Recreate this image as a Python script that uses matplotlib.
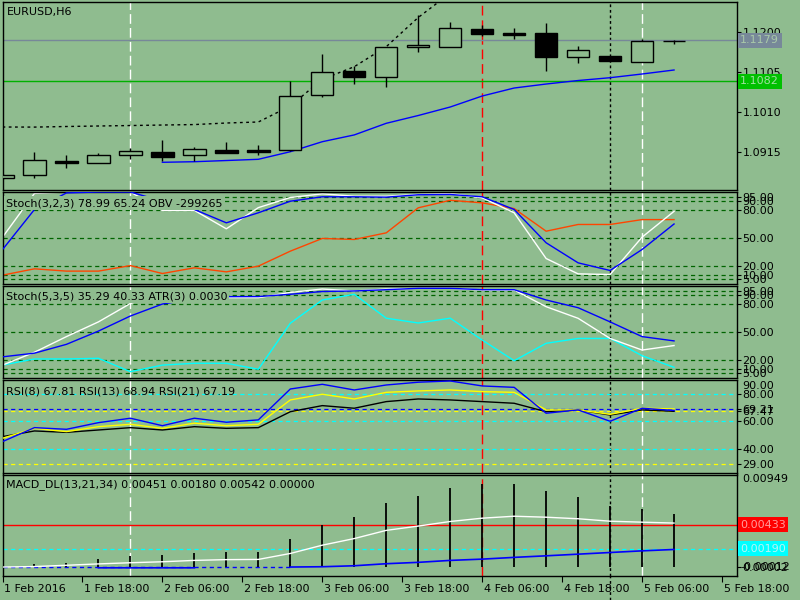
import matplotlib
matplotlib.use('Agg')
import matplotlib.pyplot as plt
import matplotlib.transforms as mtrans
import numpy as np

plt.rcParams['font.family'] = ['DejaVu Sans']
plt.rcParams['lines.scale_dashes'] = False

BG = '#8fbc8f'
W, H = 800, 600

# ---------------- data ----------------
time_labels = ['1 Feb 2016', '1 Feb 18:00', '2 Feb 06:00', '2 Feb 18:00', '3 Feb 06:00',
               '3 Feb 18:00', '4 Feb 06:00', '4 Feb 18:00', '5 Feb 06:00', '5 Feb 18:00']
time_ticks = [0, 2.5, 5, 7.5, 10, 12.5, 15, 17.5, 20, 22.5]

opens = [1.0852, 1.0859, 1.0892, 1.0887, 1.0906, 1.0913, 1.0906, 1.0918, 1.0919, 1.0918, 1.1049,
         1.1106, 1.1091, 1.1163, 1.1164, 1.1205, 1.1196, 1.1196, 1.1140, 1.1142, 1.1128, 1.1177]
highs = [1.0861, 1.0913, 1.0907, 1.0911, 1.0923, 1.0942, 1.0926, 1.0937, 1.0930, 1.1082, 1.1147,
         1.1118, 1.1163, 1.1239, 1.1223, 1.1215, 1.1208, 1.1220, 1.1166, 1.1142, 1.1182, 1.1181]
lows = [1.0850, 1.0853, 1.0875, 1.0887, 1.0897, 1.0892, 1.0892, 1.0911, 1.0906, 1.0917, 1.1045,
        1.1075, 1.1069, 1.1152, 1.1163, 1.1189, 1.1183, 1.1107, 1.1125, 1.1130, 1.1128, 1.1170]
closes = [1.0859, 1.0894, 1.0888, 1.0907, 1.0916, 1.0903, 1.0920, 1.0912, 1.0915, 1.1046, 1.1104,
          1.1091, 1.1163, 1.1168, 1.1208, 1.1195, 1.1192, 1.1140, 1.1156, 1.1131, 1.1177, 1.1177]

ma_blue = [np.nan] * 5 + [1.08894, 1.08908, 1.08936, 1.08965, 1.09145, 1.09383, 1.09544, 1.09820,
                          1.10005, 1.10207, 1.10468, 1.10658, 1.10753, 1.10836, 1.10903, 1.10991, 1.11086]
ma_dotted = [1.09732, 1.09730, 1.09744, 1.09756, 1.09767, 1.09779, 1.09790, 1.09827, 1.09851, 1.10231,
             1.10865, 1.11164, 1.11639, 1.12333, 1.12910] + [np.nan] * 7
price_ticks = [1.0915, 1.1010, 1.1105, 1.1200]
bid_level = 1.1179
green_level = 1.1082

st1_main = [50.8, 98.5, 100, 100, 100, 80, 80, 60, 83, 94, 98, 95.4, 95.4, 97.3, 98.4, 93.7, 77.4,
            27.7, 11, 10.3, 50.9, 78.99]
st1_signal = [37.4, 81, 99, 100, 100, 90, 81, 66.5, 77.4, 90, 94.8, 94.8, 94.4, 97, 97.3, 94.8, 81,
              44.8, 23, 14.7, 37.5, 65.24]
st1_obv = [9.6, 16.5, 14, 14, 20, 11.4, 17.6, 13.2, 19.4, 35.7, 49.5, 48.4, 55.6, 82.8, 91, 88.2, 82,
           57.4, 64.7, 64.7, 70, 70]

st2_main = [14, 28, 45, 61, 81, 92, 89, 87.3, 87.3, 93, 96.7, 94.6, 96.7, 97.5, 97.5, 95.6, 95.6,
            77.5, 64.9, 43, 30.4, 35.29]
st2_signal = [23, 27, 36.6, 51, 67.4, 80.4, 86, 88.4, 88.5, 91, 94, 94.6, 96, 97.5, 97.5, 96, 96,
              84.8, 76.4, 61, 45, 40.33]
st2_atr = [14, 20.7, 20.7, 21.4, 6.9, 14, 16, 16, 9.5, 59.5, 84.8, 91, 65, 59.8, 65, 41.3, 18.8,
           37.7, 43, 43, 24.2, 11.6]
stoch_levels = [5, 10, 20, 50, 80, 90, 95]

rsi8 = [45.3, 55.4, 54.2, 59, 62.2, 56.8, 62.2, 59.3, 61, 83.3, 86.7, 82.6, 86.2, 88.2, 89.1, 85.5,
        84.5, 65.8, 68.2, 60, 69.4, 67.81]
rsi13 = [47.7, 54.9, 52.5, 56.1, 57.8, 54.9, 58.6, 56.8, 57.8, 75.4, 79.5, 76.1, 80.9, 81.9, 82.6, 81.4,
         80.9, 68.2, 68.2, 65, 69.4, 68.94]
rsi21 = [48.9, 53, 52, 53.7, 55.4, 53.7, 56.1, 54.9, 55.4, 66.9, 71.3, 69.4, 74.2, 76.1, 75.4, 74.2,
         73, 66.9, 68.2, 64.5, 68.2, 67.19]
rsi_cyan_levels = [80, 60, 40]
rsi_blue_level = 69.21
rsi_yellow_levels = [67.47, 29.0]

macd_main = [0.0, 0.00005, 0.00018, 0.00032, 0.00044, 0.00054, 0.00068, 0.00076, 0.00078, 0.00139,
             0.00224, 0.00292, 0.00376, 0.00420, 0.00467, 0.00501, 0.00521, 0.00511, 0.00495, 0.00470,
             0.00460, 0.00451]
macd_signal = [np.nan, np.nan, np.nan, -0.00008, -0.00008, -0.00008, -0.00008, np.nan, np.nan, 0.0,
               0.00003, 0.00013, 0.00034, 0.00048, 0.00068, 0.00081, 0.00099, 0.00115, 0.00132,
               0.00149, 0.00166, 0.00180]
macd_zero = [0.0] * 10 + [np.nan] * 12
macd_hist = [0.0, 0.00027, 0.00037, 0.00078, 0.00115, 0.00122, 0.00139, 0.00156, 0.00156, 0.00284,
             0.00427, 0.00518, 0.00653, 0.00732, 0.00813, 0.00850, 0.00850, 0.00782, 0.00721, 0.00630,
             0.00596, 0.00542]
macd_red_level = 0.00433
macd_cyan_level = 0.00190
macd_max = 0.00949

vline_pos = [4, 15, 19, 20]

# ---------------- layout ----------------
fig = plt.figure(figsize=(8, 6), dpi=100)
fig.patch.set_facecolor(BG)

LEFT, RIGHT = 2.5, 737.0


def make_ax(top, bottom):
    ax = fig.add_axes([LEFT / W, 1 - bottom / H, (RIGHT - LEFT) / W, (bottom - top) / H])
    ax.set_facecolor(BG)
    for s in ax.spines.values():
        s.set_color('black')
        s.set_linewidth(1.0)
    ax.set_xlim(0.0, (RIGHT - 2) / 32)
    ax.tick_params(axis='y', which='both', direction='out', right=True, left=False,
                   labelright=True, labelleft=False, length=3, width=0.8, labelsize=8, pad=1,
                   colors='black')
    ax.tick_params(axis='x', bottom=False, labelbottom=False)
    return ax


ax_main = make_ax(2, 190)
ax_s1 = make_ax(192, 284)
ax_s2 = make_ax(286, 378)
ax_rsi = make_ax(380, 472.5)
ax_macd = make_ax(474.5, 576)

xs = np.arange(len(opens))

# vertical lines
vstyles = [('white', (0, (7, 3))), ('red', (0, (7, 3.5))), ('black', (0, (2, 2))), ('white', (0, (7, 3)))]
for ax in [ax_main, ax_s1, ax_s2, ax_rsi, ax_macd]:
    for p, (c, ls) in zip(vline_pos, vstyles):
        ax.axvline(p, color=c, linestyle=ls, lw=1.0, zorder=1)
ax_macd.axvline(vline_pos[2], ymin=-0.24, ymax=0, color='black', linestyle=(0, (2, 2)), lw=1.0,
                clip_on=False)

# ---------------- main panel ----------------
ax_main.set_ylim(1.08236, 1.12701)
ax_main.axhline(bid_level, color='#778899', lw=1.0, zorder=1)
ax_main.axhline(green_level, color='#00b000', lw=1.0, zorder=1)
ax_main.plot(xs, ma_dotted, color='black', lw=1.0, linestyle=(0, (2, 2.5)), zorder=2)
ax_main.plot(xs, ma_blue, color='#0000ff', lw=1.0, zorder=2)
o = np.array(opens); c = np.array(closes)
ax_main.vlines(xs, lows, highs, color='black', lw=1.0, zorder=3)
up = c >= o
ax_main.bar(xs, np.abs(c - o), bottom=np.minimum(o, c), width=0.7,
            color=[BG if u else 'black' for u in up], edgecolor='black', linewidth=1.0, zorder=4)
ax_main.set_yticks(price_ticks)
ax_main.set_yticklabels(['%.4f' % v for v in price_ticks])
tr_main = mtrans.blended_transform_factory(ax_main.transAxes, ax_main.transData)
ax_main.text(1.0045, bid_level, '%.4f' % bid_level, transform=tr_main, ha='left', va='center',
             fontsize=8, color='#a9c9a9', clip_on=False, zorder=6,
             bbox=dict(boxstyle='square,pad=0.22', fc='#778899', ec='none'))
ax_main.text(1.0045, green_level, '%.4f' % green_level, transform=tr_main, ha='left', va='center',
             fontsize=8, color='#a0e0a0', clip_on=False, zorder=6,
             bbox=dict(boxstyle='square,pad=0.22', fc='#00c000', ec='none'))


# ---------------- stochastic panels ----------------
def stoch_setup(ax):
    ax.set_ylim(0, 100)
    for lv in stoch_levels:
        ax.axhline(lv, color='#006400', lw=0.9, linestyle=(0, (3, 2.5)), zorder=1)
    ax.set_yticks(stoch_levels)
    ax.set_yticklabels(['%.2f' % v for v in stoch_levels])


stoch_setup(ax_s1)
ax_s1.plot(xs, st1_obv, color='#ff4500', lw=1.0, zorder=2)
ax_s1.plot(xs, st1_main, color='white', lw=1.0, zorder=2)
ax_s1.plot(xs, st1_signal, color='#0000ff', lw=1.0, zorder=3)

stoch_setup(ax_s2)
ax_s2.plot(xs, st2_atr, color='#00ffff', lw=1.0, zorder=2)
ax_s2.plot(xs, st2_main, color='white', lw=1.0, zorder=2)
ax_s2.plot(xs, st2_signal, color='#0000ff', lw=1.0, zorder=3)

# ---------------- RSI ----------------
ax_rsi.set_ylim(23.0, 89.8)
for lv in rsi_cyan_levels:
    ax_rsi.axhline(lv, color='#00ffff', lw=0.9, linestyle=(0, (3, 2.5)), zorder=1)
ax_rsi.axhline(rsi_blue_level, color='#0000ff', lw=0.9, linestyle=(0, (3, 2.5)), zorder=1)
for lv in rsi_yellow_levels:
    ax_rsi.axhline(lv, color='#ffff00', lw=0.9, linestyle=(0, (3, 2.5)), zorder=1)
ax_rsi.plot(xs, rsi21, color='black', lw=1.0, zorder=2)
ax_rsi.plot(xs, rsi13, color='#ffff00', lw=1.0, zorder=3)
ax_rsi.plot(xs, rsi8, color='#0000ff', lw=1.0, zorder=4)
rsi_ticks = [29.0, 40, 60, 67.47, 69.21, 80]
ax_rsi.set_yticks(rsi_ticks)
ax_rsi.set_yticklabels(['%.2f' % v for v in rsi_ticks])
ax_rsi.text(1.0075, 0.93, '90.00', transform=ax_rsi.transAxes, ha='left', va='center',
            fontsize=8, clip_on=False)

# ---------------- MACD ----------------
ax_macd.set_ylim(-0.00092, macd_max)
ax_macd.axhline(macd_red_level, color='red', lw=1.0, zorder=1)
ax_macd.axhline(macd_cyan_level, color='#00ffff', lw=0.9, linestyle=(0, (3, 2.5)), zorder=1)
ax_macd.plot(xs, macd_zero, color='#0000ff', lw=1.0, linestyle=(0, (3, 2.5)), zorder=2)
ax_macd.vlines(xs, 0, macd_hist, color='black', lw=1.3, zorder=3)
ax_macd.plot(xs, macd_main, color='white', lw=1.0, zorder=4)
ax_macd.plot(xs, macd_signal, color='#0000ff', lw=1.2, zorder=4)
ax_macd.set_yticks([0.0])
ax_macd.set_yticklabels(['0.00002'])
ax_macd.text(1.0075, 1.0, '%.5f' % macd_max, transform=ax_macd.transAxes, ha='left', va='top',
             fontsize=8, clip_on=False)
ax_macd.text(1.0045, 0.0, '-0.00012', transform=mtrans.blended_transform_factory(
    ax_macd.transAxes, ax_macd.transData), ha='left', va='center', fontsize=8, clip_on=False)
tr_macd = mtrans.blended_transform_factory(ax_macd.transAxes, ax_macd.transData)
ax_macd.text(1.0045, macd_red_level, '%.5f' % macd_red_level, transform=tr_macd, ha='left',
             va='center', fontsize=8, color='#ff9c9c', clip_on=False, zorder=6,
             bbox=dict(boxstyle='square,pad=0.22', fc='#ff0000', ec='none'))
ax_macd.text(1.0045, macd_cyan_level, '%.5f' % macd_cyan_level, transform=tr_macd, ha='left',
             va='center', fontsize=8, color='#b8f4f4', clip_on=False, zorder=6,
             bbox=dict(boxstyle='square,pad=0.22', fc='#00ffff', ec='none'))

# time axis
ax_macd.tick_params(axis='x', bottom=True, labelbottom=True, direction='out', length=4, width=0.8,
                    labelsize=8, pad=2, colors='black')
ax_macd.set_xticks(time_ticks)
ax_macd.set_xticklabels(time_labels)
offset = mtrans.ScaledTranslation(2 / 100, 0, fig.dpi_scale_trans)
for lbl in ax_macd.get_xticklabels():
    lbl.set_horizontalalignment('left')
    lbl.set_transform(lbl.get_transform() + offset)

# ---------------- titles ----------------
def ftext(xp, yp, s, box=False):
    kw = dict(fontsize=8, ha='left', va='center', color='black')
    if box:
        kw['bbox'] = dict(boxstyle='square,pad=0.15', fc=BG, ec='none')
    fig.text(xp / W, 1 - yp / H, s, **kw)


ftext(7, 12, 'EURUSD,H6')
ftext(6, 203, 'Stoch(3,2,3) 78.99 65.24 OBV -299265', box=True)
ftext(6, 296.5, 'Stoch(5,3,5) 35.29 40.33 ATR(3) 0.0030', box=True)
ftext(6, 391, 'RSI(8) 67.81 RSI(13) 68.94 RSI(21) 67.19')
ftext(6, 485, 'MACD_DL(13,21,34) 0.00451 0.00180 0.00542 0.00000')

fig.savefig('out.png', dpi=100, facecolor=BG)
